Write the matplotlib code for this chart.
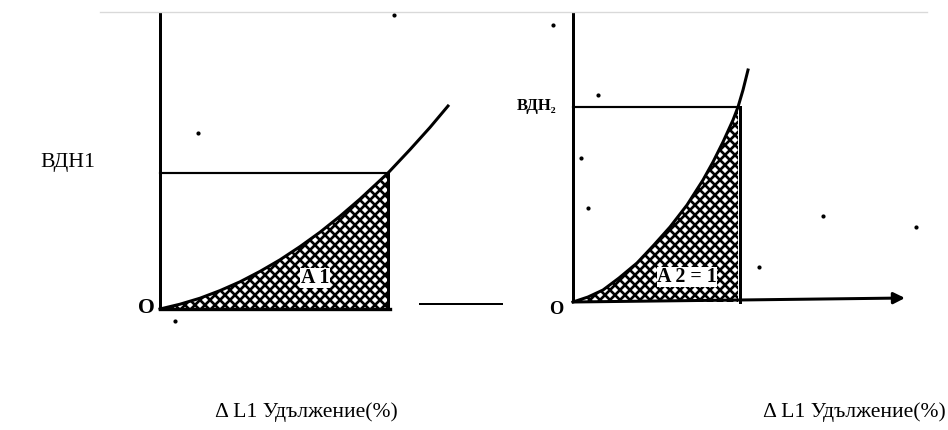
import matplotlib
matplotlib.use('Agg')
import matplotlib.pyplot as plt
from matplotlib.lines import Line2D

plt.rcParams['font.family'] = ['Liberation Serif', 'DejaVu Serif']
plt.rcParams['hatch.linewidth'] = 1.6
plt.rcParams['hatch.color'] = 'black'

DPI = 120
W, H = 948, 430

# ---- data (arbitrary stress / strain units) ----
strain_1 = [0, 1, 2, 3, 4, 5, 6, 7, 8, 9, 10, 11.4, 12.5, 13.5, 14.4]
stress_1 = [0, 0.24, 0.54, 0.92, 1.36, 1.88, 2.46, 3.12, 3.84, 4.64, 5.5, 6.8, 7.97, 9.08, 10.15]
yield_idx_1 = 11          # point where the shaded area ends (ВДН1)

strain_2 = [0, 0.75, 1.5, 2.3, 3.2, 4.0, 4.85, 5.7, 6.5, 7.0, 7.5, 8.0, 8.25, 8.5, 8.75]
stress_2 = [0, 0.25, 0.6, 1.2, 1.95, 2.8, 3.75, 4.85, 6.1, 7.0, 8.0, 9.1, 9.75, 10.6, 11.6]
yield_idx_2 = 12          # point where the shaded area ends (ВДН2)

specks_1_x = [11.7, 1.9, 0.75]
specks_1_y = [14.7, 8.8, -0.6]
specks_2_x = [-1.0, 1.25, 0.4, 0.75, 9.3, 12.5, 17.15]
specks_2_y = [13.85, 10.35, 7.2, 4.7, 1.75, 4.3, 3.75]

xlabel_text = 'Δ L1 Удължение(%)'
ylabel_1 = 'ВДН1'
ylabel_2 = 'ВДН₂'
area_label_1 = 'A 1'
area_label_2 = 'A 2 = 1'
origin_label = 'O'

fig = plt.figure(figsize=(W / DPI, H / DPI), dpi=DPI)
fig.patch.set_facecolor('white')

UNIT = 20  # pixels per data unit


def panel(x0, y0, wu, hu):
    ax = fig.add_axes([x0 / W, (H - y0) / H, wu * UNIT / W, hu * UNIT / H])
    ax.set_xlim(0, wu)
    ax.set_ylim(0, hu)
    ax.axis('off')
    return ax


def ftext(x, y, s, **kw):
    fig.text(x / W, 1 - y / H, s, **kw)


# light grey rule at the top
fig.add_artist(Line2D([100 / W, 927 / W], [1 - 12 / H, 1 - 12 / H],
                      color='#d9d9d9', lw=0.8))

# ---------------- panel 1 ----------------
ax1 = panel(160, 309, 17.5, 14.85)
ys1, ss1 = strain_1[yield_idx_1], stress_1[yield_idx_1]
ax1.fill_between(strain_1[:yield_idx_1 + 1], 0, stress_1[:yield_idx_1 + 1],
                 facecolor='white', edgecolor='black', hatch='xxxx', lw=0)
ax1.plot([0, 0], [0, 14.85], color='k', lw=1.8, clip_on=False, solid_capstyle='butt')
ax1.plot([0, ys1 + 0.1], [0, 0], color='k', lw=2.0, clip_on=False)
ax1.plot([13.0, 17.1], [0.25, 0.25], color='k', lw=1.2, clip_on=False)
ax1.plot(strain_1, stress_1, color='k', lw=1.8, clip_on=False)
ax1.plot([0, ys1], [ss1, ss1], color='k', lw=1.3, clip_on=False)
ax1.plot([ys1, ys1], [0, ss1], color='k', lw=1.8, clip_on=False)
ax1.plot(specks_1_x, specks_1_y, 'o', color='k', ms=1.5, clip_on=False)

# ---------------- panel 2 ----------------
ax2 = panel(573, 302, 17.0, 14.5)
ys2, ss2 = strain_2[yield_idx_2], stress_2[yield_idx_2]
ax2.fill_between(strain_2[:yield_idx_2 + 1], 0, stress_2[:yield_idx_2 + 1],
                 facecolor='white', edgecolor='black', hatch='xxxx', lw=0)
ax2.plot([0, 0], [0, 14.5], color='k', lw=1.8, clip_on=False, solid_capstyle='butt')
ax2.annotate('', xy=(16.6, 0.2), xytext=(0, 0),
             arrowprops=dict(arrowstyle='-|>', lw=1.8, color='k',
                             mutation_scale=14, shrinkA=0, shrinkB=0))
ax2.plot(strain_2, stress_2, color='k', lw=1.8, clip_on=False)
ax2.plot([0, ys2], [ss2, ss2], color='k', lw=1.3, clip_on=False)
ax2.plot([ys2 + 0.1, ys2 + 0.1], [0, ss2], color='k', lw=1.8, clip_on=False)
ax2.plot(specks_2_x, specks_2_y, 'o', color='k', ms=1.5, clip_on=False)

# ---------------- texts ----------------
ftext(40, 162, ylabel_1, fontsize=13, ha='left', va='center')
ftext(537, 106, ylabel_2, fontsize=10, fontweight='bold', ha='center', va='center')
ftext(146, 308, origin_label, fontsize=13, fontweight='bold', ha='center', va='center')
ftext(556, 309, origin_label, fontsize=11, fontweight='bold', ha='center', va='center')
ftext(315, 278, area_label_1, fontsize=12, fontweight='bold', ha='center', va='center',
      bbox=dict(facecolor='white', edgecolor='none', pad=0.3))
ftext(687, 277, area_label_2, fontsize=12, fontweight='bold', ha='center', va='center',
      bbox=dict(facecolor='white', edgecolor='none', pad=0.3))
ftext(215, 412, xlabel_text, fontsize=13, ha='left', va='center')
ftext(763, 412, xlabel_text, fontsize=13, ha='left', va='center')

fig.savefig('out.png', dpi=DPI, facecolor='white')
